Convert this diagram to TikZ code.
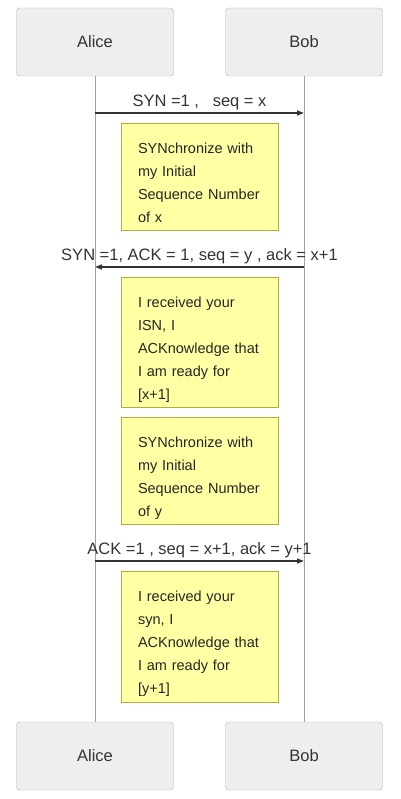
\documentclass[tikz,border=0pt]{standalone}
\usepackage{fontspec}
\setmainfont{Liberation Sans}
\usetikzlibrary{arrows.meta}

\definecolor{actorFill}{HTML}{EEEEEE}
\definecolor{actorLine}{HTML}{B4B4B4}
\definecolor{noteFill}{HTML}{FFFFA3}
\definecolor{noteLine}{HTML}{AEAE3C}
\definecolor{lifeLine}{HTML}{A0A0A0}
\definecolor{msgLine}{HTML}{333333}

\begin{document}
\begin{tikzpicture}[
  x=1pt, y=-1pt,
  actor/.style={rounded corners=3pt, fill=actorFill, draw=actorLine,
    minimum width=157pt, minimum height=68pt, inner sep=0pt,
    font=\fontsize{16.5}{20}\selectfont, text=black!80},
  note/.style={fill=noteFill, draw=noteLine, anchor=north,
    text width=123pt, inner xsep=17pt, inner ysep=0pt, align=left,
    text height=30pt, font=\fontsize{14.5}{23}\selectfont, text=black!85},
  msg/.style={-{Triangle[length=7pt,width=5pt]}, draw=msgLine, line width=1.3pt},
  msglabel/.style={above, inner sep=2.5pt, font=\fontsize{16.5}{20}\selectfont, text=black!80},
  life/.style={draw=lifeLine, line width=0.8pt}]

\useasboundingbox (0,0) rectangle (400,799);

% Position the actors at the top and at the bottom
\node[actor] (aliceTop) at (95,42) {Alice};
\node[actor] (bobTop) at (304,42) {Bob};
\node[actor] (aliceBottom) at (95,756) {Alice};
\node[actor] (bobBottom) at (304,756) {Bob};

% Lifelines
\draw[life] (aliceTop) -- (aliceBottom);
\draw[life] (bobTop) -- (bobBottom);

% Notes between the two lifelines
\node[note, text depth=77pt] (noteSynX) at (199.5,123)
  {SYNchronize with\\ my Initial\\ Sequence Number\\ of x};
\node[note, text depth=100pt] (noteAckX) at (199.5,277)
  {I received your\\ ISN, I\\ ACKnowledge that\\ I am ready for\\ {[x+1]}};
\node[note, text depth=77pt] (noteSynY) at (199.5,417)
  {SYNchronize with\\ my Initial\\ Sequence Number\\ of y};
\node[note, text depth=101pt] (noteAckY) at (199.5,571)
  {I received your\\ syn, I\\ ACKnowledge that\\ I am ready for\\ {[y+1]}};

% Anchor points of the messages on the lifelines
\coordinate (aliceSyn) at (95,113);
\coordinate (bobSyn) at (304,113);
\coordinate (aliceSynAck) at (95,267);
\coordinate (bobSynAck) at (304,267);
\coordinate (aliceAck) at (95,561);
\coordinate (bobAck) at (304,561);

% Draw the messages and label them
\draw[msg] (aliceSyn) -- node[msglabel] {SYN =1 ,\ \ \ seq = x} (bobSyn);
\draw[msg] (bobSynAck) -- node[msglabel] {SYN =1, ACK = 1, seq = y , ack = x+1} (aliceSynAck);
\draw[msg] (aliceAck) -- node[msglabel] {ACK =1 , seq = x+1, ack = y+1} (bobAck);

\end{tikzpicture}
\end{document}
